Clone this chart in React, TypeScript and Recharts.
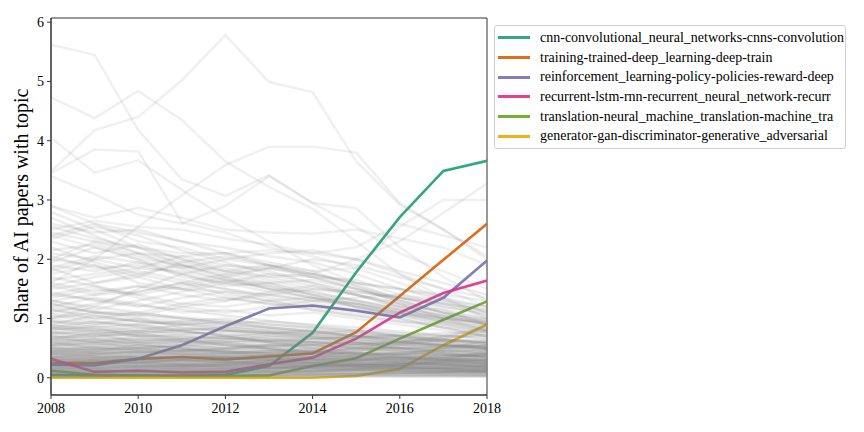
import React from "react";
import { LineChart, Line, XAxis, YAxis, ReferenceArea } from "recharts";

const YEARS = [2008, 2009, 2010, 2011, 2012, 2013, 2014, 2015, 2016, 2017, 2018];
const X_TICKS = [2008, 2010, 2012, 2014, 2016, 2018];
const Y_TICKS = [0, 1, 2, 3, 4, 5, 6];
const Y_LABEL = "Share of AI papers with topic";

const FOCUS_NAMES = [
  "cnn-convolutional_neural_networks-cnns-convolution",
  "training-trained-deep_learning-deep-train",
  "reinforcement_learning-policy-policies-reward-deep",
  "recurrent-lstm-rnn-recurrent_neural_network-recurr",
  "translation-neural_machine_translation-machine_tra",
  "generator-gan-discriminator-generative_adversarial",
];
const FOCUS_COLORS = ["#1b9e77", "#d95f02", "#7570b3", "#e7298a", "#66a61e", "#e6ab02"];

const CNN = [0.05, 0.04, 0.04, 0.04, 0.05, 0.2, 0.76, 1.78, 2.71, 3.49, 3.66];
const TRAINING = [0.25, 0.25, 0.32, 0.35, 0.31, 0.36, 0.41, 0.77, 1.38, 1.99, 2.6];
const RL = [0.22, 0.21, 0.32, 0.55, 0.87, 1.17, 1.22, 1.13, 1.02, 1.35, 1.98];
const RECURRENT = [0.32, 0.1, 0.12, 0.09, 0.1, 0.23, 0.34, 0.66, 1.1, 1.43, 1.64];
const TRANSLATION = [0.12, 0.05, 0.04, 0.03, 0.03, 0.04, 0.2, 0.33, 0.66, 0.98, 1.29];
const GENERATOR = [0.0, 0.0, 0.0, 0.0, 0.0, 0.0, 0.0, 0.03, 0.15, 0.55, 0.9];
const FOCUS_VALUES = [CNN, TRAINING, RL, RECURRENT, TRANSLATION, GENERATOR];

// other topics (grey background lines)
const UPPER_TOPICS = [
  [5.62, 5.45, 4.18, 3.35, 3.07, 3.42, 2.95, 2.86, 2.2, 1.7, 1.3],
  [3.48, 4.18, 4.4, 5.02, 5.78, 4.99, 4.82, 3.65, 2.92, 2.5, 2.05],
  [4.73, 4.38, 4.84, 4.35, 3.65, 3.22, 2.85, 2.3, 1.75, 1.35, 1.0],
  [4.05, 3.46, 3.67, 3.17, 2.7, 2.3, 1.9, 1.6, 1.3, 1.1, 0.9],
  [3.45, 3.85, 3.82, 2.62, 2.45, 2.2, 2.05, 1.85, 1.6, 1.35, 1.1],
  [1.6, 2.0, 2.55, 3.08, 3.59, 3.9, 3.9, 3.8, 2.95, 2.5, 2.0],
  [2.9, 2.6, 2.3, 2.2, 2.0, 1.9, 1.8, 1.85, 2.55, 3.0, 3.0],
  [2.4, 2.2, 2.0, 1.9, 1.8, 1.7, 1.75, 2.0, 2.3, 2.78, 3.28],
  [2.9, 2.7, 2.87, 2.7, 2.5, 2.45, 2.43, 2.5, 2.35, 2.2, 1.9],
  [2.5, 2.65, 2.55, 2.5, 2.35, 2.25, 2.1, 2.0, 1.75, 1.5, 1.2],
  [2.0, 2.3, 2.2, 2.1, 2.1, 2.15, 2.1, 2.2, 2.6, 2.4, 2.2],
  [3.4, 3.1, 2.75, 2.6, 2.9, 3.4, 2.95, 2.55, 2.1, 1.8, 1.5],
];
const MIDDLE_TOPICS = [
  [2.45, 2.3, 2.1, 2.05, 1.9, 1.85, 1.7, 1.5, 1.3, 1.1, 0.95],
  [2.3, 2.1, 2.25, 2.0, 1.8, 1.9, 1.75, 1.6, 1.5, 1.35, 1.2],
  [2.1, 2.0, 1.85, 2.05, 2.1, 1.95, 1.8, 1.55, 1.25, 1.0, 0.8],
  [1.95, 2.2, 2.0, 1.7, 1.6, 1.75, 1.7, 1.65, 1.4, 1.25, 1.05],
  [1.85, 1.6, 1.75, 1.9, 1.7, 1.5, 1.45, 1.3, 1.2, 1.15, 0.9],
  [1.75, 1.9, 1.6, 1.5, 1.65, 1.6, 1.4, 1.2, 1.05, 0.9, 0.75],
  [1.6, 1.45, 1.55, 1.4, 1.3, 1.45, 1.55, 1.4, 1.25, 1.1, 1.0],
  [1.55, 1.7, 1.8, 1.65, 1.5, 1.35, 1.25, 1.15, 1.0, 0.85, 0.7],
  [1.45, 1.3, 1.2, 1.35, 1.45, 1.3, 1.15, 1.05, 0.95, 0.9, 0.8],
  [1.35, 1.5, 1.4, 1.25, 1.2, 1.3, 1.35, 1.25, 1.1, 0.95, 0.85],
  [1.3, 1.15, 1.3, 1.45, 1.6, 1.55, 1.4, 1.3, 1.15, 1.0, 0.9],
  [1.2, 1.35, 1.25, 1.1, 1.15, 1.05, 1.1, 1.0, 0.9, 0.8, 0.7],
  [2.6, 2.45, 2.5, 2.3, 2.2, 2.05, 1.95, 1.75, 1.5, 1.3, 1.1],
  [1.1, 1.25, 1.45, 1.6, 1.75, 1.85, 2.0, 1.9, 1.7, 1.5, 1.35],
  [2.2, 1.95, 1.75, 1.6, 1.4, 1.3, 1.2, 1.1, 1.0, 0.85, 0.7],
  [1.9, 1.8, 1.95, 1.85, 2.0, 2.1, 2.15, 2.0, 1.8, 1.6, 1.4],
  [1.0, 1.2, 1.5, 1.75, 1.9, 1.8, 1.6, 1.4, 1.2, 1.05, 0.9],
  [2.8, 2.5, 2.2, 1.9, 1.7, 1.55, 1.4, 1.25, 1.1, 0.95, 0.8],
  [1.7, 1.55, 1.4, 1.55, 1.7, 1.85, 1.75, 1.55, 1.35, 1.2, 1.1],
  [2.35, 2.55, 2.4, 2.15, 1.95, 1.75, 1.6, 1.45, 1.35, 1.25, 1.15],
  [1.5, 1.6, 1.7, 1.95, 2.05, 1.9, 1.75, 1.6, 1.5, 1.4, 1.3],
  [2.05, 1.85, 1.9, 1.75, 1.55, 1.6, 1.65, 1.5, 1.3, 1.15, 1.0],
  [1.25, 1.1, 1.05, 1.2, 1.3, 1.4, 1.5, 1.45, 1.35, 1.25, 1.15],
  [1.8, 2.0, 2.1, 1.95, 1.8, 1.65, 1.5, 1.4, 1.25, 1.1, 0.95],
  [1.4, 1.55, 1.35, 1.2, 1.1, 1.2, 1.3, 1.35, 1.4, 1.3, 1.2],
  [2.55, 2.35, 2.2, 2.0, 1.85, 1.7, 1.55, 1.4, 1.2, 1.05, 0.9],
  [2.15, 2.25, 2.05, 1.9, 1.75, 1.6, 1.45, 1.3, 1.15, 1.0, 0.88],
  [1.65, 1.75, 1.85, 1.8, 1.65, 1.5, 1.35, 1.2, 1.08, 0.96, 0.85],
  [1.15, 1.0, 1.1, 1.25, 1.35, 1.25, 1.15, 1.05, 0.95, 0.85, 0.78],
  [2.0, 1.9, 1.7, 1.5, 1.45, 1.4, 1.3, 1.2, 1.1, 1.0, 0.92],
  [1.55, 1.4, 1.45, 1.6, 1.5, 1.4, 1.3, 1.25, 1.15, 1.05, 0.98],
  [1.85, 2.05, 1.95, 1.75, 1.6, 1.45, 1.35, 1.25, 1.12, 1.02, 0.93],
  [2.4, 2.6, 2.45, 2.3, 2.1, 1.9, 1.7, 1.5, 1.35, 1.2, 1.05],
  [1.3, 1.4, 1.55, 1.5, 1.35, 1.25, 1.2, 1.15, 1.08, 1.0, 0.95],
  [2.7, 2.4, 2.1, 1.85, 1.65, 1.5, 1.35, 1.2, 1.05, 0.92, 0.8],
];
const LOWER_TOPICS = [
  [0.95, 0.9, 1.0, 0.85, 0.8, 0.75, 0.7, 0.65, 0.6, 0.55, 0.5],
  [0.9, 1.05, 0.95, 0.9, 0.95, 0.85, 0.8, 0.7, 0.65, 0.6, 0.55],
  [0.85, 0.75, 0.8, 0.9, 0.85, 0.8, 0.75, 0.8, 0.7, 0.65, 0.6],
  [0.8, 0.85, 0.7, 0.65, 0.7, 0.75, 0.8, 0.75, 0.7, 0.6, 0.5],
  [0.75, 0.7, 0.75, 0.8, 0.7, 0.6, 0.55, 0.5, 0.5, 0.45, 0.4],
  [0.7, 0.6, 0.65, 0.6, 0.65, 0.7, 0.65, 0.6, 0.55, 0.5, 0.45],
  [0.65, 0.75, 0.6, 0.55, 0.5, 0.55, 0.6, 0.55, 0.5, 0.45, 0.45],
  [0.6, 0.55, 0.6, 0.65, 0.6, 0.5, 0.45, 0.45, 0.4, 0.4, 0.35],
  [0.55, 0.6, 0.5, 0.45, 0.5, 0.55, 0.5, 0.45, 0.45, 0.4, 0.38],
  [0.5, 0.45, 0.55, 0.5, 0.45, 0.4, 0.45, 0.5, 0.45, 0.4, 0.35],
  [0.48, 0.5, 0.45, 0.4, 0.42, 0.45, 0.4, 0.38, 0.36, 0.33, 0.3],
  [0.45, 0.4, 0.42, 0.45, 0.4, 0.38, 0.36, 0.35, 0.35, 0.32, 0.3],
  [0.42, 0.38, 0.4, 0.36, 0.35, 0.38, 0.4, 0.36, 0.33, 0.3, 0.28],
  [0.4, 0.42, 0.36, 0.34, 0.36, 0.34, 0.32, 0.3, 0.3, 0.28, 0.26],
  [0.38, 0.35, 0.34, 0.36, 0.33, 0.3, 0.3, 0.32, 0.3, 0.27, 0.25],
  [0.35, 0.33, 0.36, 0.32, 0.3, 0.32, 0.3, 0.28, 0.26, 0.25, 0.24],
  [0.33, 0.3, 0.3, 0.28, 0.3, 0.28, 0.26, 0.26, 0.25, 0.24, 0.22],
  [0.3, 0.32, 0.28, 0.3, 0.27, 0.26, 0.27, 0.25, 0.23, 0.22, 0.2],
  [0.28, 0.26, 0.27, 0.25, 0.26, 0.24, 0.23, 0.22, 0.22, 0.2, 0.19],
  [0.26, 0.28, 0.25, 0.24, 0.23, 0.25, 0.24, 0.22, 0.2, 0.19, 0.18],
  [0.24, 0.22, 0.23, 0.22, 0.24, 0.22, 0.2, 0.2, 0.19, 0.18, 0.17],
  [0.22, 0.24, 0.21, 0.2, 0.2, 0.21, 0.2, 0.18, 0.18, 0.17, 0.16],
  [0.2, 0.19, 0.2, 0.19, 0.18, 0.18, 0.17, 0.17, 0.16, 0.15, 0.15],
  [0.18, 0.2, 0.18, 0.17, 0.18, 0.16, 0.16, 0.15, 0.15, 0.14, 0.13],
  [0.16, 0.15, 0.16, 0.15, 0.14, 0.15, 0.14, 0.13, 0.13, 0.12, 0.12],
  [0.14, 0.15, 0.13, 0.14, 0.13, 0.12, 0.12, 0.12, 0.11, 0.11, 0.1],
  [0.12, 0.11, 0.12, 0.11, 0.12, 0.11, 0.1, 0.1, 0.1, 0.09, 0.09],
  [0.1, 0.1, 0.09, 0.1, 0.09, 0.09, 0.08, 0.08, 0.08, 0.07, 0.07],
  [0.08, 0.07, 0.08, 0.07, 0.07, 0.06, 0.06, 0.06, 0.06, 0.05, 0.05],
  [0.05, 0.05, 0.05, 0.04, 0.04, 0.04, 0.04, 0.04, 0.03, 0.03, 0.03],
  [0.03, 0.03, 0.02, 0.02, 0.02, 0.02, 0.02, 0.02, 0.02, 0.02, 0.02],
  [0.1, 0.12, 0.15, 0.18, 0.22, 0.28, 0.35, 0.45, 0.55, 0.65, 0.75],
  [0.2, 0.22, 0.25, 0.3, 0.32, 0.38, 0.42, 0.5, 0.6, 0.7, 0.85],
  [0.3, 0.28, 0.32, 0.35, 0.4, 0.45, 0.5, 0.55, 0.6, 0.68, 0.8],
  [0.05, 0.06, 0.08, 0.1, 0.12, 0.15, 0.2, 0.28, 0.38, 0.5, 0.62],
  [0.4, 0.45, 0.5, 0.55, 0.6, 0.62, 0.65, 0.7, 0.72, 0.75, 0.78],
  [0.15, 0.18, 0.2, 0.22, 0.25, 0.3, 0.32, 0.36, 0.42, 0.48, 0.55],
  [0.02, 0.03, 0.04, 0.05, 0.06, 0.08, 0.1, 0.14, 0.2, 0.28, 0.38],
  [1.05, 0.95, 0.85, 0.8, 0.7, 0.6, 0.5, 0.42, 0.35, 0.3, 0.25],
  [0.9, 0.8, 0.75, 0.65, 0.55, 0.48, 0.4, 0.34, 0.28, 0.22, 0.18],
  [0.7, 0.65, 0.55, 0.5, 0.42, 0.36, 0.3, 0.25, 0.2, 0.16, 0.12],
  [1.15, 1.05, 0.95, 0.9, 0.82, 0.75, 0.68, 0.6, 0.5, 0.42, 0.35],
  [0.6, 0.5, 0.45, 0.4, 0.35, 0.3, 0.25, 0.2, 0.16, 0.13, 0.1],
  [1.25, 1.1, 1.0, 0.95, 0.9, 0.85, 0.78, 0.7, 0.62, 0.55, 0.5],
  [0.55, 0.58, 0.62, 0.6, 0.55, 0.5, 0.46, 0.4, 0.36, 0.32, 0.3],
  [0.75, 0.8, 0.85, 0.78, 0.72, 0.66, 0.6, 0.58, 0.52, 0.48, 0.42],
  [0.35, 0.4, 0.45, 0.42, 0.38, 0.4, 0.42, 0.4, 0.38, 0.36, 0.34],
  [0.25, 0.3, 0.28, 0.32, 0.35, 0.33, 0.3, 0.28, 0.3, 0.32, 0.3],
  [0.45, 0.5, 0.55, 0.5, 0.48, 0.52, 0.55, 0.5, 0.46, 0.44, 0.42],
  [0.65, 0.6, 0.7, 0.72, 0.68, 0.62, 0.58, 0.55, 0.5, 0.52, 0.48],
  [1.0, 1.1, 1.05, 1.0, 0.92, 0.95, 0.9, 0.85, 0.78, 0.72, 0.65],
  [0.85, 0.95, 0.9, 0.95, 1.0, 0.9, 0.85, 0.8, 0.75, 0.7, 0.68],
  [0.12, 0.14, 0.13, 0.15, 0.16, 0.18, 0.2, 0.22, 0.25, 0.28, 0.3],
  [0.07, 0.08, 0.1, 0.09, 0.1, 0.11, 0.12, 0.13, 0.15, 0.17, 0.2],
  [0.18, 0.16, 0.17, 0.19, 0.2, 0.22, 0.21, 0.2, 0.22, 0.24, 0.26],
  [0.32, 0.34, 0.3, 0.28, 0.26, 0.28, 0.3, 0.32, 0.34, 0.36, 0.4],
  [0.5, 0.52, 0.48, 0.44, 0.46, 0.48, 0.44, 0.42, 0.4, 0.38, 0.36],
  [0.95, 0.85, 0.9, 0.8, 0.85, 0.78, 0.72, 0.66, 0.6, 0.56, 0.52],
  [0.02, 0.02, 0.03, 0.03, 0.03, 0.04, 0.05, 0.06, 0.08, 0.1, 0.14],
  [0.04, 0.04, 0.05, 0.05, 0.06, 0.06, 0.07, 0.07, 0.08, 0.09, 0.1],
  [0.62, 0.58, 0.52, 0.55, 0.5, 0.47, 0.44, 0.42, 0.4, 0.37, 0.34],
  [0.58, 0.64, 0.6, 0.56, 0.58, 0.54, 0.5, 0.48, 0.44, 0.41, 0.38],
  [0.52, 0.48, 0.5, 0.47, 0.44, 0.42, 0.43, 0.41, 0.38, 0.36, 0.33],
  [0.47, 0.44, 0.4, 0.42, 0.39, 0.37, 0.35, 0.33, 0.31, 0.3, 0.28],
  [0.44, 0.47, 0.49, 0.46, 0.43, 0.41, 0.38, 0.36, 0.34, 0.31, 0.29],
  [0.41, 0.37, 0.35, 0.33, 0.34, 0.32, 0.31, 0.29, 0.27, 0.26, 0.24],
  [0.37, 0.39, 0.37, 0.38, 0.36, 0.35, 0.33, 0.31, 0.29, 0.28, 0.27],
  [0.34, 0.31, 0.33, 0.31, 0.29, 0.3, 0.28, 0.27, 0.26, 0.24, 0.23],
  [0.31, 0.29, 0.27, 0.26, 0.28, 0.27, 0.25, 0.24, 0.23, 0.22, 0.21],
  [0.29, 0.3, 0.31, 0.29, 0.27, 0.25, 0.25, 0.24, 0.24, 0.23, 0.22],
  [0.27, 0.25, 0.24, 0.25, 0.24, 0.23, 0.22, 0.21, 0.2, 0.2, 0.19],
  [0.25, 0.26, 0.26, 0.23, 0.22, 0.22, 0.21, 0.21, 0.21, 0.21, 0.2],
  [0.23, 0.21, 0.22, 0.21, 0.21, 0.2, 0.19, 0.19, 0.18, 0.17, 0.16],
  [0.21, 0.23, 0.2, 0.21, 0.19, 0.19, 0.18, 0.18, 0.17, 0.17, 0.17],
  [0.19, 0.17, 0.19, 0.18, 0.17, 0.17, 0.16, 0.16, 0.16, 0.15, 0.14],
  [0.17, 0.18, 0.16, 0.16, 0.16, 0.15, 0.15, 0.14, 0.14, 0.14, 0.13],
  [0.15, 0.13, 0.14, 0.13, 0.14, 0.13, 0.13, 0.13, 0.12, 0.12, 0.12],
  [0.13, 0.13, 0.12, 0.12, 0.11, 0.11, 0.11, 0.11, 0.11, 0.1, 0.1],
  [0.11, 0.12, 0.1, 0.11, 0.1, 0.1, 0.1, 0.09, 0.09, 0.09, 0.08],
  [0.09, 0.08, 0.09, 0.08, 0.08, 0.08, 0.07, 0.07, 0.07, 0.07, 0.06],
  [0.06, 0.06, 0.06, 0.06, 0.05, 0.05, 0.05, 0.05, 0.05, 0.05, 0.04],
  [0.04, 0.03, 0.04, 0.03, 0.03, 0.03, 0.03, 0.03, 0.03, 0.03, 0.03],
  [0.72, 0.68, 0.66, 0.62, 0.6, 0.58, 0.55, 0.52, 0.48, 0.45, 0.41],
  [0.78, 0.72, 0.74, 0.7, 0.66, 0.63, 0.6, 0.57, 0.55, 0.52, 0.49],
  [0.82, 0.88, 0.8, 0.76, 0.74, 0.7, 0.68, 0.64, 0.6, 0.57, 0.54],
  [0.68, 0.7, 0.72, 0.68, 0.64, 0.61, 0.6, 0.58, 0.56, 0.54, 0.52],
  [0.88, 0.82, 0.78, 0.74, 0.78, 0.72, 0.68, 0.62, 0.58, 0.54, 0.5],
  [0.98, 0.92, 0.88, 0.84, 0.8, 0.76, 0.72, 0.68, 0.65, 0.62, 0.58],
  [1.08, 1.0, 0.96, 0.92, 0.88, 0.82, 0.76, 0.7, 0.66, 0.62, 0.58],
  [1.18, 1.12, 1.08, 1.02, 0.96, 0.9, 0.84, 0.76, 0.7, 0.64, 0.6],
  [0.36, 0.33, 0.38, 0.4, 0.42, 0.44, 0.46, 0.48, 0.5, 0.52, 0.55],
  [0.26, 0.24, 0.27, 0.3, 0.31, 0.34, 0.36, 0.38, 0.42, 0.45, 0.48],
  [0.16, 0.17, 0.19, 0.2, 0.22, 0.24, 0.26, 0.3, 0.33, 0.36, 0.4],
  [0.08, 0.09, 0.1, 0.12, 0.13, 0.15, 0.17, 0.2, 0.23, 0.26, 0.3],
  [0.46, 0.42, 0.44, 0.46, 0.5, 0.53, 0.56, 0.58, 0.6, 0.62, 0.64],
  [0.56, 0.54, 0.57, 0.6, 0.62, 0.64, 0.66, 0.68, 0.7, 0.7, 0.72],
  [0.12, 0.1, 0.12, 0.14, 0.15, 0.17, 0.19, 0.23, 0.28, 0.33, 0.4],
  [0.03, 0.04, 0.05, 0.06, 0.08, 0.1, 0.12, 0.16, 0.22, 0.3, 0.45],
  [0.66, 0.62, 0.58, 0.5, 0.45, 0.4, 0.35, 0.3, 0.26, 0.22, 0.2],
  [0.84, 0.78, 0.7, 0.62, 0.56, 0.5, 0.44, 0.38, 0.32, 0.28, 0.24],
  [0.5, 0.46, 0.42, 0.38, 0.34, 0.3, 0.26, 0.22, 0.19, 0.16, 0.14],
  [0.4, 0.36, 0.33, 0.3, 0.27, 0.24, 0.21, 0.18, 0.15, 0.13, 0.11],
  [0.3, 0.27, 0.25, 0.22, 0.2, 0.18, 0.16, 0.14, 0.12, 0.1, 0.09],
  [1.3, 1.2, 1.1, 1.0, 0.92, 0.85, 0.78, 0.7, 0.62, 0.55, 0.48],
  [1.4, 1.32, 1.22, 1.15, 1.05, 0.96, 0.88, 0.8, 0.72, 0.65, 0.58],
  [0.76, 0.74, 0.78, 0.82, 0.8, 0.77, 0.74, 0.72, 0.68, 0.64, 0.6],
  [0.62, 0.66, 0.64, 0.66, 0.68, 0.66, 0.62, 0.6, 0.57, 0.55, 0.53],
  [0.54, 0.52, 0.5, 0.52, 0.54, 0.56, 0.55, 0.52, 0.5, 0.48, 0.46],
  [0.44, 0.42, 0.45, 0.47, 0.46, 0.44, 0.42, 0.41, 0.4, 0.39, 0.38],
  [0.34, 0.36, 0.34, 0.33, 0.35, 0.36, 0.35, 0.34, 0.33, 0.32, 0.31],
];

const Y_MIN = -0.29;
const Y_MAX = 6.07;

const GREY_GROUPS = [
  { key: "u", topics: UPPER_TOPICS, opacity: 0.12 },
  { key: "m", topics: MIDDLE_TOPICS, opacity: 0.14 },
  { key: "l", topics: LOWER_TOPICS, opacity: 0.17 },
];

const data = YEARS.map((year, i) => {
  const row: Record<string, number> = { year };
  FOCUS_VALUES.forEach((vals, k) => {
    row["f" + k] = vals[i];
  });
  GREY_GROUPS.forEach((g) => {
    g.topics.forEach((vals, k) => {
      row[g.key + k] = vals[i];
    });
  });
  return row;
});

const FONT = "'Liberation Serif', 'Times New Roman', serif";

export default function App() {
  return (
    <div style={{ position: "relative", width: 864, height: 432, background: "#fff", fontFamily: FONT }}>
      <style>{"body{margin:0;}"}</style>
      <LineChart
        width={864}
        height={432}
        data={data}
        margin={{ top: 18, right: 377, bottom: 0, left: 0 }}
      >
        <XAxis
          dataKey="year"
          type="number"
          domain={[2008, 2018]}
          ticks={X_TICKS}
          allowDataOverflow
          height={37}
          tickSize={4}
          tickMargin={4}
          stroke="#333"
          tick={{ fill: "#000", fontSize: 14, fontFamily: FONT }}
        />
        <YAxis
          type="number"
          domain={[Y_MIN, Y_MAX]}
          ticks={Y_TICKS}
          allowDataOverflow
          width={51}
          tickSize={4}
          tickMargin={3}
          stroke="#333"
          tick={{ fill: "#000", fontSize: 14, fontFamily: FONT }}
          label={{
            content: () => (
              <text
                x={28}
                y={206}
                transform="rotate(-90 28 206)"
                textAnchor="middle"
                fontSize={20}
                fontFamily={FONT}
                fill="#000"
              >
                {Y_LABEL}
              </text>
            ),
          }}
        />
        {FOCUS_VALUES.map((_, k) => (
          <Line
            key={"f" + k}
            dataKey={"f" + k}
            stroke={FOCUS_COLORS[k]}
            strokeOpacity={0.9}
            strokeWidth={2.6}
            dot={false}
            activeDot={false}
            isAnimationActive={false}
          />
        ))}
        {GREY_GROUPS.map((g) =>
          g.topics.map((_, k) => (
            <Line
              key={g.key + k}
              dataKey={g.key + k}
              stroke="#808080"
              strokeOpacity={g.opacity}
              strokeWidth={2.5}
              dot={false}
              activeDot={false}
              isAnimationActive={false}
            />
          ))
        )}
        <ReferenceArea
          x1={2008}
          x2={2018}
          y1={Y_MIN}
          y2={Y_MAX}
          fill="none"
          fillOpacity={0}
          stroke="#333"
          strokeWidth={1}
          ifOverflow="visible"
        />
      </LineChart>
      <div
        style={{
          position: "absolute",
          left: 494,
          top: 25,
          width: 352,
          height: 124,
          border: "1px solid #d0d0d0",
          borderRadius: 3,
          background: "rgba(255,255,255,0.8)",
          boxSizing: "border-box",
        }}
      >
        {FOCUS_NAMES.map((name, k) => (
          <div
            key={name}
            style={{
              position: "absolute",
              left: 3,
              top: 2 + k * 19.7,
              height: 19.7,
              display: "flex",
              alignItems: "center",
              whiteSpace: "nowrap",
            }}
          >
            <div style={{ width: 32, height: 3, background: FOCUS_COLORS[k], opacity: 0.9, marginRight: 10 }} />
            <span style={{ fontSize: 14, fontFamily: FONT, color: "#000" }}>{name}</span>
          </div>
        ))}
      </div>
    </div>
  );
}
